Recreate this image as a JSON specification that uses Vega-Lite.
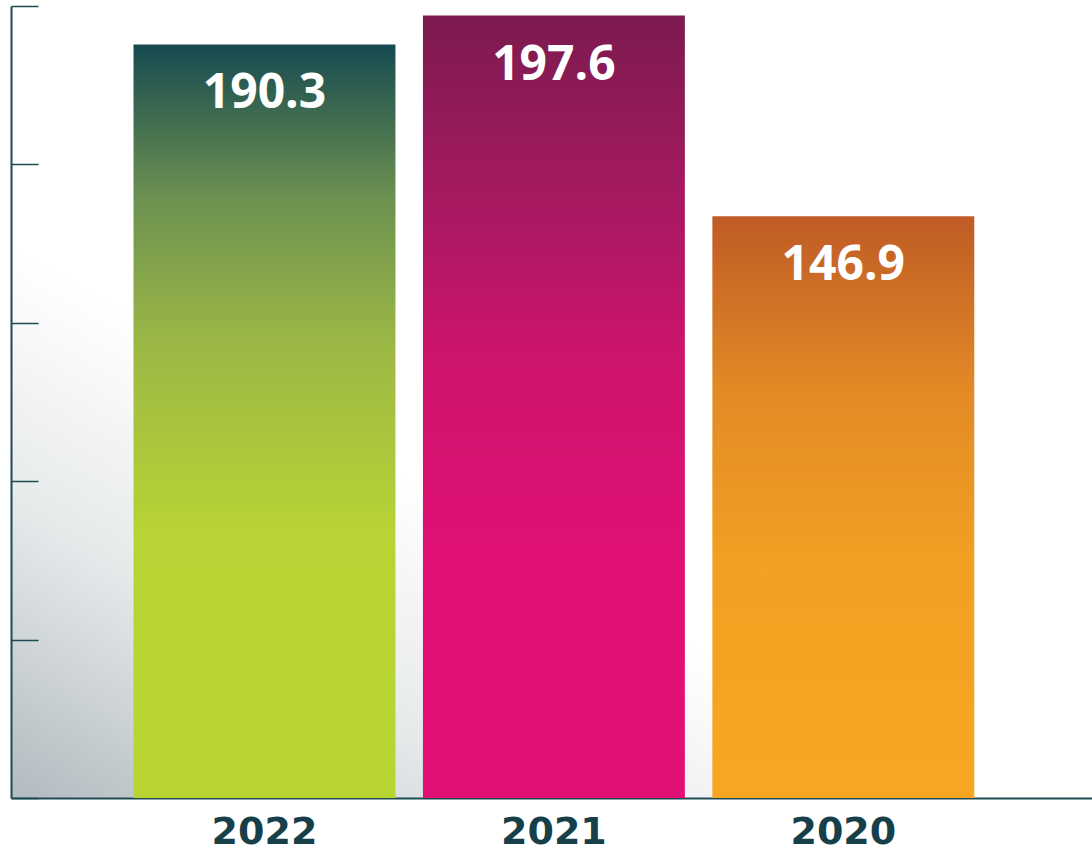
{
  "$schema": "https://vega.github.io/schema/vega-lite/v6.json",
  "width": 1081,
  "height": 792,
  "autosize": {"type": "none"},
  "padding": {"left": 11, "top": 6, "right": 0, "bottom": 58},
  "background": "#ffffff",
  "view": {
    "stroke": null,
    "fill": {
      "gradient": "linear",
      "x1": 0, "y1": 1, "x2": 0.4, "y2": 0.5,
      "stops": [
        {"offset": 0, "color": "#b2bbc0"},
        {"offset": 0.45, "color": "#e6e9ea"},
        {"offset": 0.85, "color": "#ffffff"},
        {"offset": 1, "color": "#ffffff"}
      ]
    }
  },
  "data": {
    "values": [
      {"year": "2022", "value": 190.3},
      {"year": "2021", "value": 197.6},
      {"year": "2020", "value": 146.9}
    ]
  },
  "encoding": {
    "x": {
      "field": "year", "type": "nominal", "sort": null,
      "scale": {"paddingInner": 0.095, "paddingOuter": 0.415, "align": 0.51},
      "axis": {
        "title": null, "ticks": false, "domainColor": "#1d4b54", "domainWidth": 2,
        "labelAngle": 0, "labelFont": "DejaVu Sans", "labelFontWeight": "bold",
        "labelFontSize": 38, "labelColor": "#173f4a", "labelPadding": 15
      }
    },
    "y": {
      "field": "value", "type": "quantitative",
      "scale": {"domain": [0, 200], "nice": false, "zero": true},
      "axis": {
        "title": null, "labels": false, "grid": false, "values": [0, 40, 80, 120, 160, 200],
        "tickSize": -27, "tickColor": "#1d4b54", "tickWidth": 1.5,
        "domainColor": "#1d4b54", "domainWidth": 2
      }
    }
  },
  "layer": [
    {
      "transform": [{"filter": "datum.year === '2022'"}],
      "mark": {
        "type": "bar",
        "color": {
          "gradient": "linear", "x1": 0, "y1": 0, "x2": 0, "y2": 1,
          "stops": [
            {"offset": 0, "color": "#164a50"},
            {"offset": 0.2, "color": "#6b8f50"},
            {"offset": 0.4, "color": "#9cb845"},
            {"offset": 0.65, "color": "#b8d434"},
            {"offset": 1, "color": "#b9d532"}
          ]
        }
      }
    },
    {
      "transform": [{"filter": "datum.year === '2021'"}],
      "mark": {
        "type": "bar",
        "color": {
          "gradient": "linear", "x1": 0, "y1": 0, "x2": 0, "y2": 1,
          "stops": [
            {"offset": 0, "color": "#7c1a4f"},
            {"offset": 0.2, "color": "#a01a5e"},
            {"offset": 0.45, "color": "#cf146c"},
            {"offset": 0.7, "color": "#e01075"},
            {"offset": 1, "color": "#e11075"}
          ]
        }
      }
    },
    {
      "transform": [{"filter": "datum.year === '2020'"}],
      "mark": {
        "type": "bar",
        "color": {
          "gradient": "linear", "x1": 0, "y1": 0, "x2": 0, "y2": 1,
          "stops": [
            {"offset": 0, "color": "#bf5b25"},
            {"offset": 0.3, "color": "#e38a26"},
            {"offset": 0.6, "color": "#f3a023"},
            {"offset": 1, "color": "#f8a622"}
          ]
        }
      }
    },
    {
      "mark": {
        "type": "text", "color": "#ffffff", "font": "Open Sans", "fontWeight": "bold",
        "fontSize": 48, "baseline": "middle", "dy": 50
      },
      "encoding": {
        "text": {"field": "value", "type": "quantitative", "format": ".1f"}
      }
    }
  ]
}
